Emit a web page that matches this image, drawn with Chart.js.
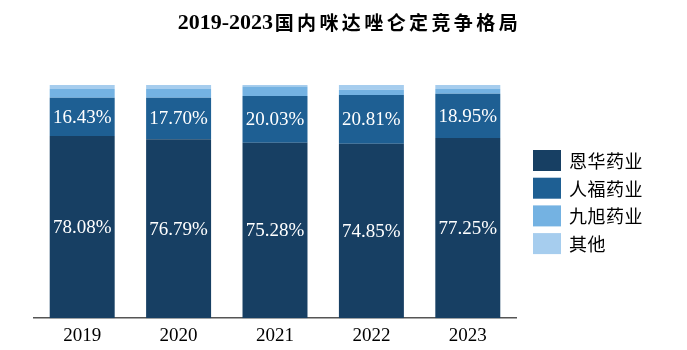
<!DOCTYPE html>
<html>
<head>
<meta charset="utf-8">
<script src="https://cdn.jsdelivr.net/npm/chart.js@4.4.0/dist/chart.umd.min.js"></script>
<style>
  html,body{margin:0;padding:0;background:#fff;}
  #wrap{width:687px;height:350px;}
</style>
</head>
<body>
<div id="wrap"><canvas id="chart" width="687" height="350"></canvas></div>
<script>
const titleYears = "2019-2023";
const titleText = "国内咪达唑仑定竞争格局";
const years = ["2019","2020","2021","2022","2023"];
const enhua = [78.08, 76.79, 75.28, 74.85, 77.25];
const renfu = [16.43, 17.70, 20.03, 20.81, 18.95];
const jiuxu = [3.8, 3.8, 4.1, 2.3, 2.1];
const others = [1.69, 1.71, 0.59, 2.04, 1.70];

const serif = "'Liberation Serif', 'Times New Roman', serif";
const cjk = "'Noto Sans CJK SC', sans-serif";

/* ---------- title centred on the page ---------- */
const pageTitle = {
  id: "pageTitle",
  afterDraw(chart){
    const ctx = chart.ctx;
    ctx.save();
    ctx.fillStyle = "#000";
    ctx.textBaseline = "middle";
    ctx.font = "bold 22px " + serif;
    const w1 = ctx.measureText(titleYears).width;
    const step = 22.4;
    const total = w1 + step * titleText.length;
    let x = chart.width/2 + 5 - total/2;
    ctx.fillText(titleYears, x, 23);
    x += w1;
    ctx.font = "bold 19px " + cjk;
    ctx.textAlign = "center";
    for(const ch of titleText){
      ctx.fillText(ch, x + step/2, 23);
      x += step;
    }
    ctx.restore();
  }
};

/* ---------- value labels inside bars ---------- */
const segLabels = {
  id: "segLabels",
  afterDatasetsDraw(chart){
    const ctx = chart.ctx;
    ctx.save();
    ctx.fillStyle = "#fff";
    ctx.font = "19px " + serif;
    ctx.textAlign = "center";
    ctx.textBaseline = "middle";
    [0,1].forEach(di=>{
      const meta = chart.getDatasetMeta(di);
      meta.data.forEach((bar,i)=>{
        const v = chart.data.datasets[di].data[i];
        ctx.fillText(v.toFixed(2)+"%", bar.x, (bar.y + bar.base)/2 + 1);
      });
    });
    ctx.restore();
  }
};

/* ---------- legend on the right ---------- */
const sideLegend = {
  id: "sideLegend",
  afterDraw(chart){
    const ctx = chart.ctx, area = chart.chartArea;
    const x = area.right + 17;
    let y = area.top + 65;
    ctx.save();
    ctx.font = "18px " + cjk;
    ctx.textBaseline = "middle";
    ctx.textAlign = "center";
    chart.data.datasets.forEach(ds=>{
      ctx.fillStyle = ds.backgroundColor;
      ctx.fillRect(x, y, 28, 21);
      ctx.fillStyle = "#000";
      let tx = x + 36;
      for(const ch of ds.label){            // spaced out characters
        ctx.fillText(ch, tx + 9, y + 11);
        tx += 18.5;
      }
      y += 27.7;
    });
    ctx.restore();
  }
};

new Chart(document.getElementById("chart"), {
  type: "bar",
  data: {
    labels: years,
    datasets: [
      {label:"恩华药业", data:enhua, backgroundColor:"#173f63"},
      {label:"人福药业", data:renfu, backgroundColor:"#1e5f93"},
      {label:"九旭药业", data:jiuxu, backgroundColor:"#74b2e2"},
      {label:"其他", data:others, backgroundColor:"#a6cdee"}
    ]
  },
  options: {
    responsive: false,
    animation: false,
    layout: {padding:{left:34, right:171, top:85, bottom:-3}},
    datasets: {bar:{categoryPercentage:1, barPercentage:0.674, borderWidth:0}},
    scales: {
      x: {
        stacked: true,
        grid: {display:false, drawTicks:false},
        border: {color:"#555", width:1.5},
        ticks: {color:"#000", font:{size:19, family:serif}, padding:6}
      },
      y: {stacked:true, display:false, min:0, max:100}
    },
    plugins: {
      title: {display:false},
      legend: {display:false},
      tooltip: {enabled:false}
    }
  },
  plugins: [segLabels, sideLegend, pageTitle]
});
</script>
</body>
</html>
